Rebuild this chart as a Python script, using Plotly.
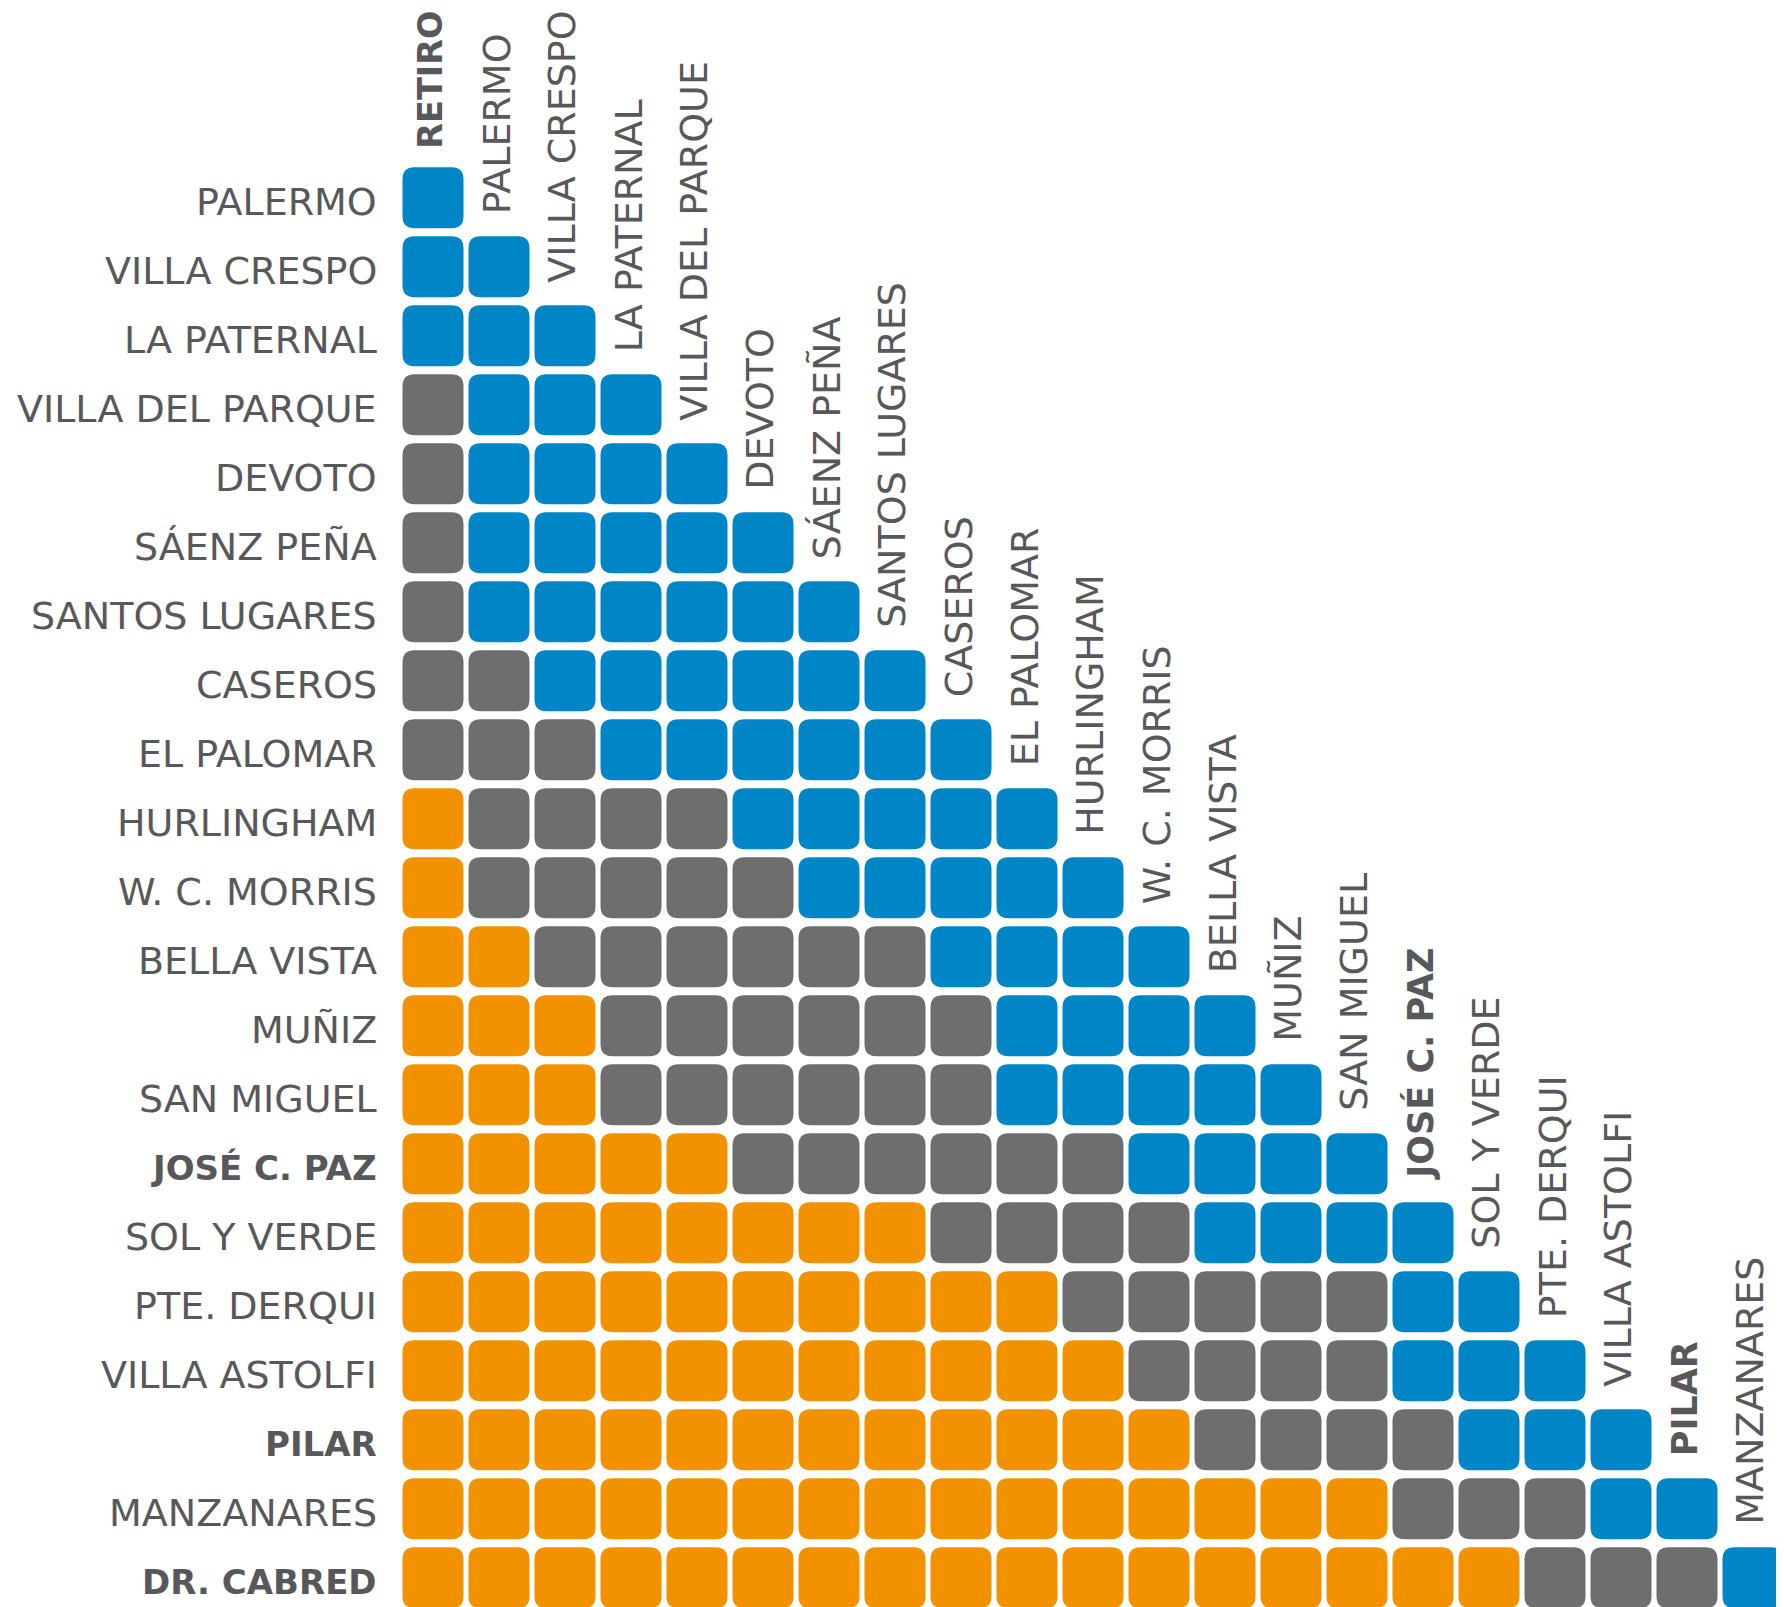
import plotly.graph_objects as go

# Stations (rows: from PALERMO to DR. CABRED, columns: from RETIRO to MANZANARES)
row_labels = ["PALERMO", "VILLA CRESPO", "LA PATERNAL", "VILLA DEL PARQUE", "DEVOTO",
              "SÁENZ PEÑA", "SANTOS LUGARES", "CASEROS", "EL PALOMAR", "HURLINGHAM",
              "W. C. MORRIS", "BELLA VISTA", "MUÑIZ", "SAN MIGUEL", "JOSÉ C. PAZ",
              "SOL Y VERDE", "PTE. DERQUI", "VILLA ASTOLFI", "PILAR", "MANZANARES",
              "DR. CABRED"]
col_labels = ["RETIRO", "PALERMO", "VILLA CRESPO", "LA PATERNAL", "VILLA DEL PARQUE",
              "DEVOTO", "SÁENZ PEÑA", "SANTOS LUGARES", "CASEROS", "EL PALOMAR",
              "HURLINGHAM", "W. C. MORRIS", "BELLA VISTA", "MUÑIZ", "SAN MIGUEL",
              "JOSÉ C. PAZ", "SOL Y VERDE", "PTE. DERQUI", "VILLA ASTOLFI", "PILAR",
              "MANZANARES"]
bold_labels = ["RETIRO", "JOSÉ C. PAZ", "PILAR", "DR. CABRED"]

# Fare zone per origin/destination pair (B = blue, G = gray, O = orange)
row_codes = [
    "B",
    "BB",
    "BBB",
    "GBBB",
    "GBBBB",
    "GBBBBB",
    "GBBBBBB",
    "GGBBBBBB",
    "GGGBBBBBB",
    "OGGGGBBBBB",
    "OGGGGGBBBBB",
    "OOGGGGGGBBBB",
    "OOOGGGGGGBBBB",
    "OOOGGGGGGBBBBB",
    "OOOOOGGGGGGBBBB",
    "OOOOOOOOGGGGBBBB",
    "OOOOOOOOOOGGGGGBB",
    "OOOOOOOOOOOGGGGBBB",
    "OOOOOOOOOOOOGGGGBBB",
    "OOOOOOOOOOOOOOOGGGBB",
    "OOOOOOOOOOOOOOOOOGGGB",
]
zone_colors = {"B": "#0085C7", "G": "#6E6E6E", "O": "#F29200"}

W, H = 1784, 1607
OFF = 8.0                 # page offset of the figure
X0, DX = 433.0 - OFF, 66.0   # pixel centre of first column, column pitch
Y0, DY = 197.7 - OFF, 69.0   # pixel centre of first row, row pitch
CELL = 61.0               # cell size px
RAD = 12.0                # corner radius px

hx, hy = CELL / 2 / DX, CELL / 2 / DY
rx, ry = RAD / DX, RAD / DY

def rounded_path(cx, cy):
    x0, x1 = cx - hx, cx + hx
    y0, y1 = cy - hy, cy + hy
    return (f"M {x0+rx},{y0} L {x1-rx},{y0} Q {x1},{y0} {x1},{y0+ry} "
            f"L {x1},{y1-ry} Q {x1},{y1} {x1-rx},{y1} "
            f"L {x0+rx},{y1} Q {x0},{y1} {x0},{y1-ry} "
            f"L {x0},{y0+ry} Q {x0},{y0} {x0+rx},{y0} Z")

shapes = []
for r, codes in enumerate(row_codes):
    for c, z in enumerate(codes):
        shapes.append(dict(type="path", xref="x", yref="y", path=rounded_path(c, r),
                           fillcolor=zone_colors[z], line=dict(width=0), layer="above"))

TXT = "#58585A"
FONT = "DejaVu Sans"
FS = 38

def fmt(s):
    return f"<b>{s}</b>" if s in bold_labels else s

annotations = []
label_x = (379 - OFF - X0) / DX
for r, name in enumerate(row_labels):
    size = 34 if name in bold_labels else FS
    annotations.append(dict(x=label_x, y=r, xref="x", yref="y", text=fmt(name),
                            showarrow=False, xanchor="right", yanchor="middle",
                            yshift=-4, font=dict(family=FONT, size=size, color=TXT)))
for c, name in enumerate(col_labels):
    if c == 0:
        size = 33.5
    else:
        size = 35 if name in bold_labels else FS
    annotations.append(dict(x=c, y=c - hy, xref="x", yref="y", text=fmt(name),
                            showarrow=False, xanchor="center", yanchor="bottom",
                            textangle=-90, yshift=(16 if c == 0 else 20), xshift=-2.5,
                            font=dict(family=FONT, size=size, color=TXT)))

fig = go.Figure()
fig.add_trace(go.Scatter(x=[0], y=[0], mode="markers", marker=dict(opacity=0),
                         hoverinfo="skip", showlegend=False))
fig.update_layout(
    width=W, height=H,
    margin=dict(l=0, r=0, t=0, b=0),
    paper_bgcolor="white", plot_bgcolor="white",
    xaxis=dict(range=[-X0 / DX, (W - X0) / DX], visible=False, fixedrange=True),
    yaxis=dict(range=[(H - Y0) / DY, -Y0 / DY], visible=False, fixedrange=True),
    shapes=shapes, annotations=annotations,
)
fig.write_html("out.html")
